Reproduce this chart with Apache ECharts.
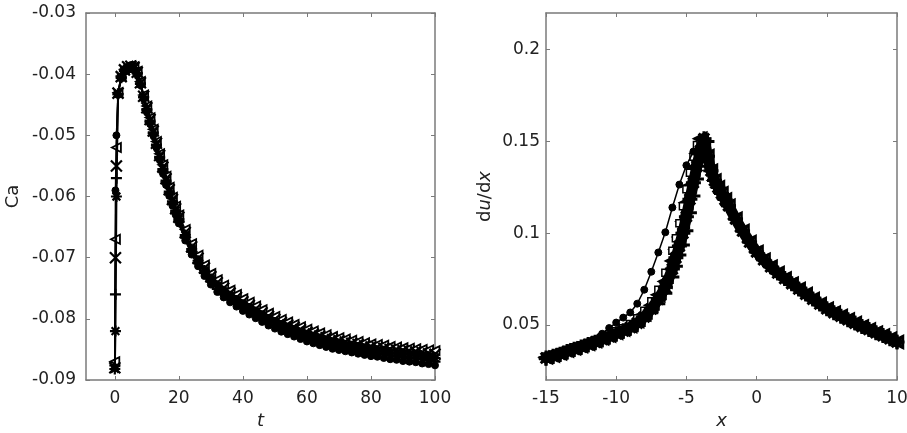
<!DOCTYPE html>
<html><head><meta charset="utf-8">
<script src="https://cdn.jsdelivr.net/npm/echarts@6/dist/echarts.min.js"></script>
<style>html,body{margin:0;padding:0;background:#fff}#c{width:907px;height:433px}</style>
</head><body><div id="c"></div>
<script>
// ---------- Left panel: Ca vs t ----------
const tVals = [0,0.2,0.5,1,2,3,4,5,6,7,8,9,10,11,12,13,14,15,16,17,18,19,20,22,24,26,28,30,32,34,36,38,40,42,44,46,48,50,52,54,56,58,60,62,64,66,68,70,72,74,76,78,80,82,84,86,88,90,92,94,96,98,100];
const caTri = [-0.0870,-0.0670,-0.0520,-0.0430,-0.0403,-0.0392,-0.0387,-0.0386,-0.0388,-0.0395,-0.0412,-0.0434,-0.0452,-0.0471,-0.0490,-0.0510,-0.0530,-0.0548,-0.0567,-0.0585,-0.0601,-0.0616,-0.0630,-0.0654,-0.0677,-0.0696,-0.0712,-0.0726,-0.0736,-0.0745,-0.0753,-0.0760,-0.0767,-0.0773,-0.0779,-0.0785,-0.0791,-0.0796,-0.0801,-0.0805,-0.0809,-0.0813,-0.0817,-0.0820,-0.0823,-0.0826,-0.0829,-0.0831,-0.0833,-0.0835,-0.0837,-0.0839,-0.0841,-0.0842,-0.0843,-0.0845,-0.0846,-0.0847,-0.0848,-0.0849,-0.0850,-0.0851,-0.0852];
const caX = [-0.0880,-0.0700,-0.0550,-0.0431,-0.0404,-0.0393,-0.0388,-0.0387,-0.0389,-0.0397,-0.0414,-0.0436,-0.0455,-0.0474,-0.0493,-0.0513,-0.0533,-0.0552,-0.0571,-0.0589,-0.0605,-0.0620,-0.0634,-0.0659,-0.0682,-0.0701,-0.0717,-0.0731,-0.0741,-0.0750,-0.0758,-0.0765,-0.0772,-0.0778,-0.0784,-0.0790,-0.0796,-0.0801,-0.0806,-0.0810,-0.0814,-0.0818,-0.0822,-0.0825,-0.0828,-0.0831,-0.0834,-0.0836,-0.0838,-0.0840,-0.0842,-0.0844,-0.0846,-0.0847,-0.0848,-0.0850,-0.0851,-0.0852,-0.0853,-0.0854,-0.0855,-0.0857,-0.0858];
const caStar = [-0.0882,-0.0820,-0.0600,-0.0432,-0.0405,-0.0394,-0.0389,-0.0388,-0.0390,-0.0398,-0.0415,-0.0437,-0.0457,-0.0476,-0.0495,-0.0515,-0.0535,-0.0555,-0.0574,-0.0592,-0.0608,-0.0623,-0.0637,-0.0663,-0.0686,-0.0705,-0.0721,-0.0735,-0.0746,-0.0755,-0.0763,-0.0770,-0.0777,-0.0783,-0.0789,-0.0795,-0.0801,-0.0806,-0.0811,-0.0815,-0.0819,-0.0823,-0.0827,-0.0830,-0.0833,-0.0836,-0.0839,-0.0841,-0.0843,-0.0845,-0.0847,-0.0849,-0.0851,-0.0852,-0.0853,-0.0855,-0.0856,-0.0857,-0.0858,-0.0859,-0.0861,-0.0862,-0.0864];
const caPlus = [-0.0876,-0.0760,-0.0570,-0.0433,-0.0406,-0.0395,-0.0390,-0.0389,-0.0391,-0.0399,-0.0416,-0.0438,-0.0459,-0.0478,-0.0497,-0.0517,-0.0537,-0.0558,-0.0577,-0.0595,-0.0611,-0.0626,-0.0640,-0.0667,-0.0690,-0.0709,-0.0725,-0.0739,-0.0751,-0.0760,-0.0768,-0.0775,-0.0782,-0.0788,-0.0794,-0.0800,-0.0806,-0.0811,-0.0816,-0.0820,-0.0824,-0.0828,-0.0832,-0.0835,-0.0838,-0.0841,-0.0844,-0.0846,-0.0848,-0.0850,-0.0852,-0.0854,-0.0856,-0.0857,-0.0858,-0.0860,-0.0861,-0.0863,-0.0864,-0.0865,-0.0866,-0.0868,-0.0870];
const caCirc = [-0.0880,-0.0590,-0.0500,-0.0434,-0.0407,-0.0396,-0.0391,-0.0390,-0.0392,-0.0401,-0.0418,-0.0440,-0.0462,-0.0481,-0.0500,-0.0520,-0.0540,-0.0562,-0.0581,-0.0599,-0.0615,-0.0630,-0.0644,-0.0672,-0.0695,-0.0714,-0.0730,-0.0744,-0.0756,-0.0765,-0.0773,-0.0780,-0.0787,-0.0793,-0.0799,-0.0805,-0.0811,-0.0816,-0.0821,-0.0825,-0.0829,-0.0833,-0.0837,-0.0840,-0.0843,-0.0846,-0.0849,-0.0851,-0.0853,-0.0855,-0.0857,-0.0859,-0.0861,-0.0862,-0.0864,-0.0866,-0.0867,-0.0869,-0.0870,-0.0871,-0.0873,-0.0874,-0.0876];
const tTicks = [0,20,40,60,80,100];
const caTicks = [-0.09,-0.08,-0.07,-0.06,-0.05,-0.04,-0.03];

// ---------- Right panel: du/dx vs x ----------
const xFine = [-15,-14.5,-14,-13.5,-13,-12.5,-12,-11.5,-11,-10.5,-10,-9.5,-9,-8.5,-8,-7.5,-7,-6.5,-6,-5.75,-5.5,-5.25,-5,-4.75,-4.5,-4.25,-4,-3.75,-3.5,-3.25,-3,-2.75,-2.5,-2.25,-2,-1.5,-1,-0.5,0,0.5,1,1.5,2,2.5,3,3.5,4,4.5,5,5.5,6,6.5,7,7.5,8,8.5,9,9.5,10];
const duA = [0.0324,0.0334,0.0346,0.0361,0.0373,0.0385,0.0398,0.0412,0.0427,0.0442,0.0458,0.0475,0.0494,0.0521,0.0559,0.0607,0.0664,0.0737,0.0849,0.0912,0.0979,0.1064,0.1166,0.1259,0.1347,0.1435,0.1515,0.1480,0.1420,0.1340,0.1287,0.1250,0.1217,0.1183,0.1150,0.1078,0.1012,0.0952,0.0898,0.0855,0.0817,0.0783,0.0753,0.0725,0.0696,0.0668,0.0641,0.0614,0.0588,0.0567,0.0548,0.0529,0.0510,0.0492,0.0475,0.0458,0.0442,0.0425,0.0407];
const duB = [0.0320,0.0330,0.0341,0.0355,0.0368,0.0380,0.0393,0.0406,0.0421,0.0436,0.0452,0.0468,0.0486,0.0510,0.0543,0.0587,0.0640,0.0705,0.0805,0.0866,0.0930,0.1000,0.1090,0.1185,0.1275,0.1365,0.1450,0.1515,0.1420,0.1340,0.1287,0.1250,0.1217,0.1183,0.1150,0.1078,0.1012,0.0952,0.0898,0.0855,0.0817,0.0783,0.0753,0.0725,0.0696,0.0668,0.0641,0.0614,0.0588,0.0567,0.0548,0.0529,0.0510,0.0492,0.0475,0.0458,0.0442,0.0425,0.0407];
const duC = [0.0316,0.0326,0.0336,0.0349,0.0363,0.0375,0.0388,0.0400,0.0415,0.0430,0.0446,0.0461,0.0478,0.0499,0.0527,0.0567,0.0616,0.0673,0.0761,0.0820,0.0881,0.0936,0.1014,0.1111,0.1203,0.1295,0.1390,0.1470,0.1500,0.1360,0.1290,0.1250,0.1217,0.1183,0.1150,0.1078,0.1012,0.0952,0.0898,0.0855,0.0817,0.0783,0.0753,0.0725,0.0696,0.0668,0.0641,0.0614,0.0588,0.0567,0.0548,0.0529,0.0510,0.0492,0.0475,0.0458,0.0442,0.0425,0.0407];
const duSq = [0.0328,0.0339,0.0352,0.0365,0.0378,0.0390,0.0403,0.0418,0.0433,0.0449,0.0465,0.0482,0.0505,0.0536,0.0578,0.0629,0.0692,0.0785,0.0904,0.0972,0.1054,0.1147,0.1239,0.1329,0.1416,0.1480,0.1500,0.1470,0.1425,0.1345,0.1290,0.1250,0.1217,0.1183,0.1150,0.1078,0.1012,0.0952,0.0898,0.0855,0.0817,0.0783,0.0753,0.0725,0.0696,0.0668,0.0641,0.0614,0.0588,0.0567,0.0548,0.0529,0.0510,0.0492,0.0475,0.0458,0.0442,0.0425,0.0407];
const xCoarse = [-15,-14.5,-14,-13.5,-13,-12.5,-12,-11.5,-11,-10.5,-10,-9.5,-9,-8.5,-8,-7.5,-7,-6.5,-6,-5.5,-5,-4.5,-4,-3.5,-3,-2.5,-2,-1.5,-1,-0.5,0,0.5,1,1.5,2,2.5,3,3.5,4,4.5,5,5.5,6,6.5,7,7.5,8,8.5,9,9.5,10];
const duCirc = [0.0322,0.0331,0.0341,0.0352,0.0365,0.0380,0.0398,0.0420,0.0452,0.0483,0.0513,0.0540,0.0568,0.0616,0.0692,0.0790,0.0895,0.1005,0.1140,0.1265,0.1370,0.1445,0.1515,0.1420,0.1287,0.1217,0.1150,0.1078,0.1012,0.0952,0.0898,0.0855,0.0817,0.0783,0.0753,0.0725,0.0696,0.0668,0.0641,0.0614,0.0588,0.0567,0.0548,0.0529,0.0510,0.0492,0.0475,0.0458,0.0442,0.0425,0.0407];
const xTicks = [-15,-10,-5,0,5,10];
const duTicks = [0.05,0.1,0.15,0.2];

// ---------- chart ----------
const FONT = 'DejaVu Sans';
const TXT = '#222';
const FRAME = '#7a7a7a';
const SYM = {
  triL: 'path://M0,5L10,0L10,10Z',
  cross: 'path://M0,0L10,10M10,0L0,10',
  plus: 'path://M5,0L5,10M0,5L10,5',
  star: 'path://M5,0L5,10M0,5L10,5M1.5,1.5L8.5,8.5M8.5,1.5L1.5,8.5'
};

function axisCommon(min, max, ticks, showLabel, pos, gi, fmt, margin) {
  return {
    type: 'value', gridIndex: gi, min: min, max: max, position: pos,
    axisLine: { show: true, onZero: false, lineStyle: { color: FRAME, width: 1.5 } },
    axisTick: { show: true, inside: true, length: 4, customValues: ticks, lineStyle: { color: FRAME, width: 1 } },
    axisLabel: { show: showLabel, customValues: ticks, color: TXT, fontSize: 17, fontFamily: FONT, margin: margin, formatter: fmt },
    splitLine: { show: false }
  };
}
function nameStyle(extra) {
  return Object.assign({ color: TXT, fontSize: 18, fontFamily: FONT }, extra || {});
}

const xAxes = [
  Object.assign(axisCommon(-9, 100, tTicks, true, 'bottom', 0, v => String(v), 10),
    { name: 't', nameLocation: 'middle', nameGap: 30, nameTextStyle: nameStyle({ fontStyle: 'italic' }) }),
  axisCommon(-9, 100, tTicks, false, 'top', 0, null, 8),
  Object.assign(axisCommon(-15, 10, xTicks, true, 'bottom', 1, v => String(v), 10),
    { name: 'x', nameLocation: 'middle', nameGap: 30, nameTextStyle: nameStyle({ fontStyle: 'italic' }) }),
  axisCommon(-15, 10, xTicks, false, 'top', 1, null, 8)
];
const yAxes = [
  Object.assign(axisCommon(-0.09, -0.03, caTicks, true, 'left', 0, v => v.toFixed(2), 10),
    { name: 'Ca', nameLocation: 'middle', nameGap: 64, nameRotate: 90, nameTextStyle: nameStyle() }),
  axisCommon(-0.09, -0.03, caTicks, false, 'right', 0, null, 8),
  Object.assign(axisCommon(0.02, 0.22, duTicks, true, 'left', 1, v => String(+v.toFixed(2)), 6),
    { name: '{n|d}{i|u}{n|/d}{i|x}', nameLocation: 'middle', nameGap: 52, nameRotate: 90,
      nameTextStyle: nameStyle({ rich: { n: { fontSize: 18, fontFamily: FONT, color: TXT }, i: { fontSize: 18, fontFamily: FONT, color: TXT, fontStyle: 'italic' } } }) }),
  axisCommon(0.02, 0.22, duTicks, false, 'right', 1, null, 8)
];

function ser(xs, ys, xi, yi, symbol, size, fill, lw, bw, z) {
  return {
    type: 'line', xAxisIndex: xi, yAxisIndex: yi,
    data: xs.map((x, i) => [x, ys[i]]),
    symbol: symbol, symbolSize: size, showSymbol: true, showAllSymbol: true,
    lineStyle: { color: '#000', width: lw, join: 'round', cap: 'round' },
    itemStyle: { color: fill, borderColor: '#000', borderWidth: bw },
    emphasis: { disabled: true }, silent: true, animation: false, z: z, clip: true
  };
}

const series = [
  ser(tVals, caTri, 0, 0, SYM.triL, 9, '#fff', 1.5, 1.8, 2),
  ser(tVals, caX, 0, 0, SYM.cross, 11, '#000', 1.5, 2.2, 3),
  ser(tVals, caStar, 0, 0, SYM.star, 11, '#000', 2, 2.2, 4),
  ser(tVals, caPlus, 0, 0, SYM.plus, 11, '#000', 1.5, 2.2, 5),
  ser(tVals, caCirc, 0, 0, 'circle', 7, '#000', 1.5, 1, 6),

  ser(xFine, duA, 2, 2, SYM.triL, 12, '#fff', 5, 2.5, 2),
  ser(xFine, duSq, 2, 2, 'rect', 7, '#fff', 1.5, 1.5, 3),
  ser(xFine, duC, 2, 2, SYM.plus, 14, '#000', 5, 3, 4),
  ser(xFine, duB, 2, 2, SYM.star, 15, '#000', 11, 3, 5),
  ser(xCoarse, duCirc, 2, 2, 'circle', 7, '#000', 1.5, 1, 6)
];

const chart = echarts.init(document.getElementById('c'), null, { renderer: 'canvas' });
chart.setOption({
  backgroundColor: '#fff',
  animation: false,
  grid: [
    { left: 86, top: 13, width: 349, height: 367, outerBoundsMode: 'none', containLabel: false },
    { left: 546, top: 13, width: 351, height: 367, outerBoundsMode: 'none', containLabel: false }
  ],
  xAxis: xAxes,
  yAxis: yAxes,
  series: series
});
</script>
</body></html>
